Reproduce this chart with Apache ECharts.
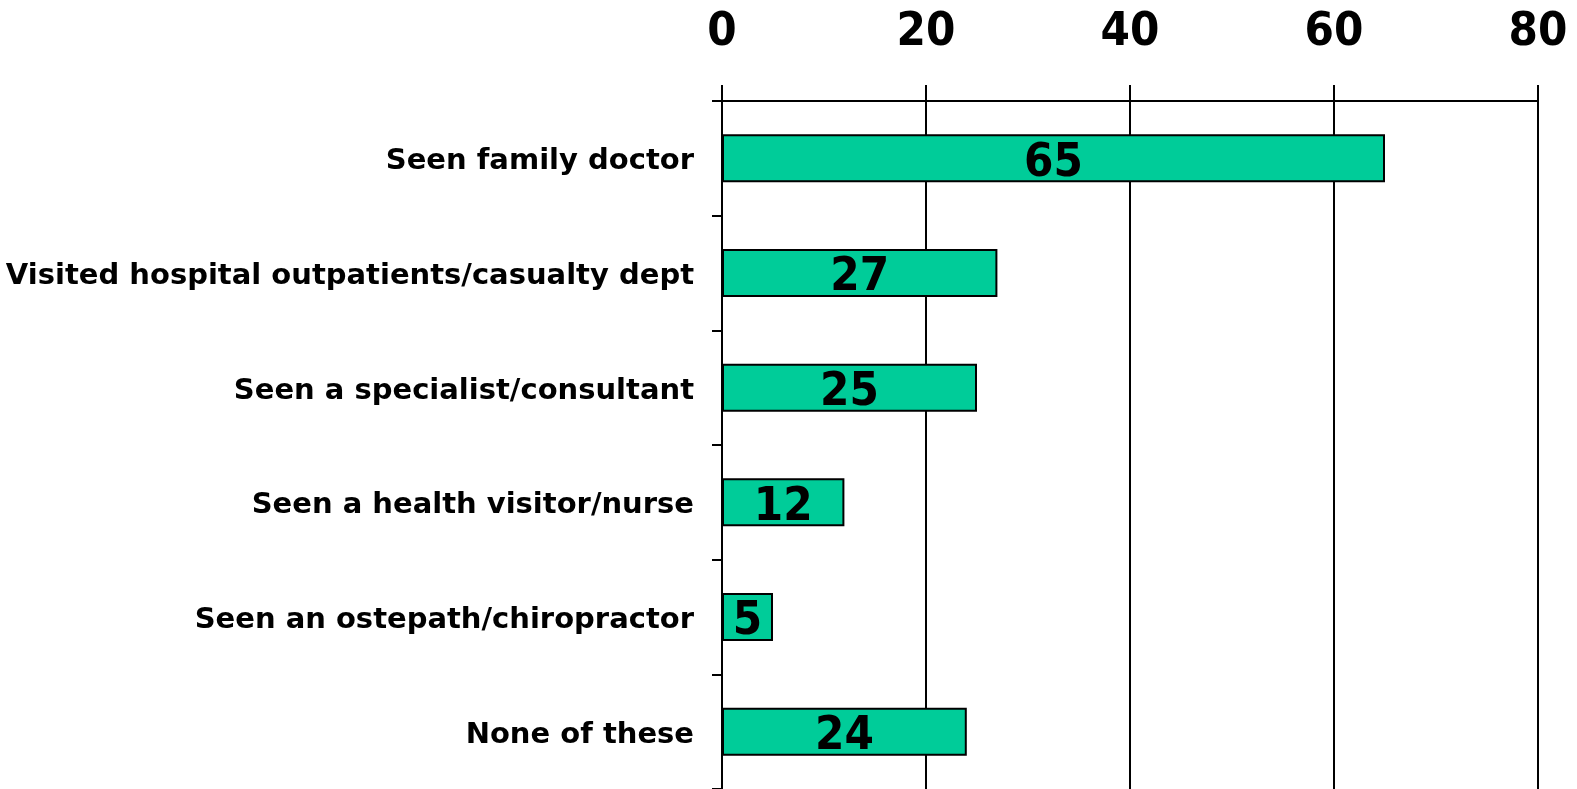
<!DOCTYPE html>
<html>
<head>
<meta charset="utf-8">
<script src="https://cdn.jsdelivr.net/npm/echarts@6/dist/echarts.min.js"></script>
<style>
  html, body { margin: 0; padding: 0; background: #fff; }
  #chart { width: 1577px; height: 789px; }
</style>
</head>
<body>
<div id="chart"></div>
<script>
// categories, top to bottom
const categories = [
  'Seen family doctor',
  'Visited hospital outpatients/casualty dept',
  'Seen a specialist/consultant',
  'Seen a health visitor/nurse',
  'Seen an ostepath/chiropractor',
  'None of these'
];
const values = [65, 27, 25, 12, 5, 24];
const xTicks = [0, 20, 40, 60, 80];

const numFont = "'DejaVu Sans Condensed', 'DejaVu Sans', sans-serif";
const labelFont = "'DejaVu Sans', sans-serif";

const chart = echarts.init(document.getElementById('chart'));
chart.setOption({
  animation: false,
  grid: { left: 722, top: 101, width: 816, height: 690 },
  xAxis: {
    type: 'value',
    position: 'top',
    min: xTicks[0],
    max: xTicks[xTicks.length - 1],
    interval: 20,
    axisLine: { show: true, lineStyle: { color: '#000', width: 2 } },
    axisTick: { show: true, length: 16, lineStyle: { color: '#000', width: 2 } },
    axisLabel: {
      margin: 45,
      fontSize: 47,
      fontWeight: 'bold',
      fontFamily: numFont,
      color: '#000'
    },
    splitLine: { show: true, lineStyle: { color: '#000', width: 2 } }
  },
  yAxis: {
    type: 'category',
    data: categories,
    inverse: true,
    axisLine: { show: true, lineStyle: { color: '#000', width: 2 } },
    axisTick: { show: true, length: 10, lineStyle: { color: '#000', width: 2 } },
    axisLabel: {
      margin: 28,
      formatter: (v) => '{c|' + v + '}',
      rich: {
        c: {
          fontSize: 29,
          fontWeight: 'bold',
          fontFamily: labelFont,
          color: '#000',
          padding: [7, 0, 0, 0]
        }
      }
    }
  },
  series: [{
    type: 'bar',
    data: values,
    barWidth: 48,
    itemStyle: { color: '#00CC99', borderColor: '#000', borderWidth: 2 },
    label: {
      show: true,
      position: 'inside',
      offset: [0, 5],
      fontSize: 47,
      fontWeight: 'bold',
      fontFamily: numFont,
      color: '#000'
    }
  }]
});
</script>
</body>
</html>
